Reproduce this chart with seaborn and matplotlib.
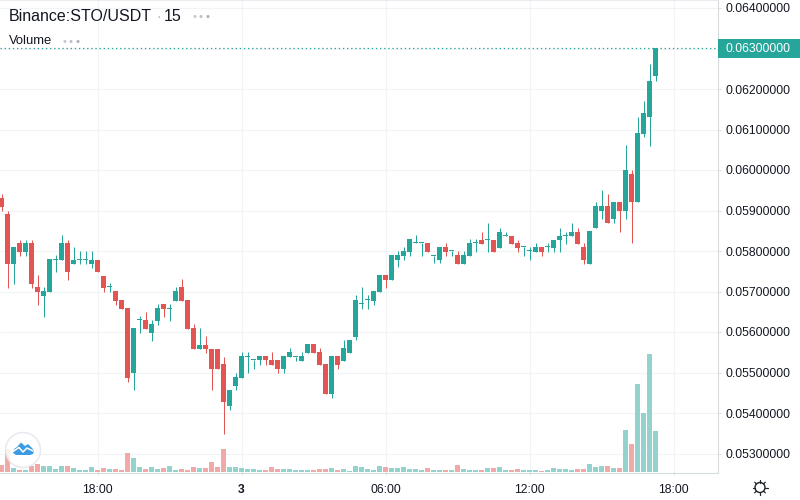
import matplotlib
matplotlib.use("Agg")
import matplotlib.pyplot as plt
import numpy as np
import pandas as pd
import seaborn as sns
from matplotlib.patches import Circle, Polygon, Rectangle

# prices are in units of 0.001 USDT, one list per field, one value per 15 min candle
opens = [
    59.30, 58.91, 57.69, 58.19, 57.97, 58.19, 57.10, 56.89, 56.99, 57.79,
    57.78, 58.19, 57.68, 57.78, 57.78, 57.68, 57.79, 57.39, 57.10, 57.00,
    56.79, 56.59, 54.99, 56.29, 56.29, 55.98, 56.28, 56.69, 56.58, 56.77,
    57.10, 56.79, 56.09, 55.58, 55.69, 55.59, 55.59, 55.20, 54.18, 54.67,
    54.87, 55.39, 55.30, 55.30, 55.41, 55.31, 55.31, 55.09, 55.39, 55.39,
    55.29, 55.49, 55.70, 55.51, 55.21, 54.48, 55.41, 55.29, 55.49, 55.88,
    56.68, 56.79, 56.77, 56.99, 57.40, 57.29, 57.78, 57.88, 57.98, 58.19,
    58.19, 58.19, 57.88, 57.78, 58.09, 57.99, 57.89, 57.69, 57.88, 58.19,
    58.28, 58.28, 58.28, 58.07, 58.38, 58.38, 58.19, 58.09, 57.99, 57.97,
    58.09, 58.09, 58.07, 58.27, 58.38, 58.37, 58.48, 58.09, 57.68, 58.58,
    58.99, 59.11, 58.80, 59.21, 59.00, 59.90, 59.20, 60.90, 61.30, 62.31,
]
highs = [
    59.40, 58.99, 58.09, 58.28, 58.28, 58.28, 57.40, 57.10, 57.80, 57.90,
    58.39, 58.28, 58.09, 58.00, 58.00, 58.00, 57.79, 57.39, 57.20, 57.00,
    56.79, 56.59, 56.09, 56.39, 56.49, 56.29, 56.69, 56.69, 56.69, 57.10,
    57.30, 56.79, 56.19, 56.09, 55.90, 55.59, 55.59, 55.39, 54.58, 54.99,
    55.50, 55.50, 55.30, 55.41, 55.41, 55.51, 55.31, 55.41, 55.60, 55.39,
    55.51, 55.70, 55.70, 55.60, 55.21, 55.41, 55.41, 55.80, 55.80, 56.91,
    57.10, 56.91, 57.00, 57.40, 57.40, 57.89, 57.99, 58.09, 58.30, 58.40,
    58.19, 58.19, 57.88, 58.09, 58.19, 57.99, 57.99, 57.99, 58.30, 58.30,
    58.48, 58.70, 58.28, 58.58, 58.48, 58.38, 58.28, 58.09, 58.09, 58.19,
    58.09, 58.19, 58.28, 58.58, 58.48, 58.70, 58.58, 58.19, 58.49, 59.21,
    59.51, 59.41, 59.21, 59.21, 60.61, 60.00, 61.30, 61.71, 62.62, 63.00,
]
lows = [
    58.99, 57.09, 57.19, 57.87, 57.87, 57.09, 56.66, 56.37, 56.99, 57.49,
    57.78, 57.29, 57.68, 57.69, 57.69, 57.58, 57.49, 56.99, 56.99, 56.67,
    56.57, 54.77, 54.56, 55.98, 56.08, 55.78, 56.18, 56.37, 56.28, 56.77,
    56.77, 56.08, 55.58, 55.58, 55.49, 54.56, 55.09, 53.49, 54.08, 54.56,
    54.87, 54.99, 55.09, 55.19, 55.19, 55.19, 55.00, 55.00, 55.39, 55.29,
    55.29, 55.49, 55.49, 55.19, 54.48, 54.38, 55.09, 55.29, 55.49, 55.80,
    56.58, 56.58, 56.67, 56.99, 57.09, 57.29, 57.60, 57.78, 57.88, 58.19,
    57.88, 57.98, 57.70, 57.70, 57.88, 57.88, 57.69, 57.69, 57.88, 57.98,
    58.17, 57.98, 57.97, 58.07, 58.38, 58.17, 57.97, 57.88, 57.78, 57.97,
    57.88, 57.97, 57.97, 57.97, 58.17, 58.37, 58.17, 57.68, 57.68, 58.58,
    58.80, 58.70, 58.70, 58.48, 58.80, 58.19, 59.20, 60.81, 60.60, 62.19,
]
closes = [
    59.09, 57.69, 58.09, 57.97, 58.19, 57.19, 56.99, 57.00, 57.80, 57.79,
    58.19, 57.49, 57.79, 57.79, 57.79, 57.79, 57.49, 57.09, 57.10, 56.77,
    56.57, 54.87, 56.09, 56.29, 56.08, 56.19, 56.59, 56.58, 56.58, 57.00,
    56.77, 56.08, 55.58, 55.69, 55.58, 55.09, 55.09, 54.28, 54.58, 54.88,
    55.40, 55.39, 55.30, 55.41, 55.30, 55.19, 55.09, 55.41, 55.51, 55.39,
    55.41, 55.70, 55.49, 55.19, 54.48, 55.41, 55.19, 55.60, 55.80, 56.79,
    56.68, 56.79, 57.00, 57.40, 57.29, 57.89, 57.89, 57.99, 58.30, 58.19,
    58.19, 57.98, 57.88, 58.09, 57.98, 57.99, 57.69, 57.89, 58.19, 58.19,
    58.17, 58.28, 57.97, 58.48, 58.38, 58.17, 58.07, 58.09, 57.99, 58.09,
    57.97, 58.09, 58.28, 58.38, 58.38, 58.48, 58.17, 57.78, 58.49, 59.11,
    59.11, 58.70, 59.21, 59.00, 60.00, 59.20, 60.92, 61.41, 62.20, 63.00,
]
# volume in arbitrary units
volumes = [
    7, 23, 4, 2, 2, 6, 8, 6, 6, 3.5,
    6, 6, 4, 2, 2, 5, 2, 4, 3, 3,
    2, 19, 14, 5, 3, 5, 3, 4, 6, 2,
    3, 2, 5, 4, 4, 10, 5, 23, 5, 5,
    4, 3, 3, 2, 2, 5, 3, 3, 3, 2,
    2, 2, 2, 3, 3, 4, 2, 3, 1.5, 6,
    5, 3, 2, 6, 5, 4, 4, 5, 3, 3,
    2, 4, 2, 2, 2, 2, 7, 3, 2, 2,
    2, 4, 4, 5, 2, 2, 3, 2, 2, 2,
    1.5, 2, 4, 3, 3, 2, 3, 3, 8, 5,
    6, 6, 4, 4, 42, 28, 88, 59, 118, 41,
]
price_ticks = [53, 54, 55, 56, 57, 58, 59, 60, 61, 62, 63, 64]
time_ticks = [16, 40, 64, 88, 112]
time_labels = ["18:00", "3", "06:00", "12:00", "18:00"]
last_price = 63.0

UP = "#26a69a"
DOWN = "#e25552"
GRID = "#f1f3f6"
AXIS = "#d6dcde"
TEXT = "#131722"
FONT = ["Liberation Sans", "DejaVu Sans"]
BAR_W = 4.9 / 6

df = pd.DataFrame({"open": opens, "high": highs, "low": lows, "close": closes, "volume": volumes})
df["idx"] = np.arange(len(df))
df["dir"] = np.where(df["close"] >= df["open"], "up", "down")

sns.set_theme(style="white")
plt.rcParams["font.family"] = FONT

fig = plt.figure(figsize=(8, 5), dpi=100)
box = [0, 28 / 500, 717.5 / 800, 472 / 500]
xlim = (-1.5 / 6, 716 / 6)

# candles and the grid go in the lower axes
ax = fig.add_axes(box, zorder=1)
ax.set_xlim(xlim)
ax.set_ylim(63 - 423.5 / 40.5, 63 + 48.5 / 40.5)
ax.set_xticks(time_ticks)
ax.set_yticks(price_ticks)
ax.set_yticklabels([f"{p / 1000:.8f}" for p in price_ticks], fontsize=8.7, color=TEXT)
ax.yaxis.tick_right()
ax.tick_params(axis="x", bottom=False, labelbottom=False)
ax.tick_params(axis="y", right=True, length=2.2, width=0.72, color=AXIS, pad=3.5)
ax.grid(True, color=GRID, lw=0.8, zorder=0)
ax.set_axisbelow(True)

for direction, color in [("up", UP), ("down", DOWN)]:
    part = df[df["dir"] == direction]
    ax.vlines(part["idx"], part["low"], part["high"], color=color, lw=0.72, zorder=3)
    bottom = part[["open", "close"]].min(axis=1)
    height = (part["open"] - part["close"]).abs().clip(lower=1 / 40.5)
    ax.bar(part["idx"], height, bottom=bottom, width=BAR_W, color=color, lw=0, zorder=4)

for s in ["left", "bottom"]:
    ax.spines[s].set_visible(False)
ax.spines["right"].set_color(AXIS)
ax.spines["right"].set_linewidth(0.8)
ax.spines["top"].set_color("#e6e8ee")
ax.spines["top"].set_linewidth(1.2)

# volume on top with a clear background, one unit is one pixel
ax_vol = fig.add_axes(box, zorder=2)
ax_vol.patch.set_alpha(0)
sns.barplot(
    data=df, x="idx", y="volume", hue="dir", native_scale=True, dodge=False, width=BAR_W,
    palette={"up": "#94d3cd", "down": "#f1a9a7"}, errorbar=None, legend=False,
    saturation=1, linewidth=0, ax=ax_vol,
)
ax_vol.set_xlim(xlim)
ax_vol.set_ylim(0, 472)
ax_vol.set_xticks(time_ticks)
ax_vol.set_xticklabels(time_labels, fontsize=8.7, color=TEXT)
ax_vol.get_xticklabels()[1].set_fontweight("bold")
ax_vol.tick_params(axis="x", bottom=True, length=2.2, width=0.72, color=AXIS, pad=6.5)
ax_vol.set_yticks([])
ax_vol.set_xlabel("")
ax_vol.set_ylabel("")
for s in ["left", "right", "top", "bottom"]:
    ax_vol.spines[s].set_visible(False)

# overlay in pixel coordinates for the chrome around the chart
ov = fig.add_axes([0, 0, 1, 1], zorder=3)
ov.set_xlim(0, 800)
ov.set_ylim(500, 0)
ov.axis("off")

ov.plot([0, 717.5], [472.5, 472.5], color=AXIS, lw=0.8)

# last price line and its label on the scale
ov.plot([0, 717.5], [48.4, 48.4], color=UP, lw=0.9, ls=(0, (1.1, 2.2)), snap=True)
ov.add_patch(Rectangle((718, 39), 82, 19, color=UP, lw=0))
ov.text(726, 48.5, f"{last_price / 1000:.8f}", color="white", fontsize=8.7, va="center", ha="left")

ov.text(9, 16.5, "Binance:STO/USDT", color=TEXT, fontsize=11.55, va="center", ha="left")
ov.text(156, 16.5, "·", color="#b2b5be", fontsize=10, va="center", ha="left")
ov.text(164, 16.5, "15", color=TEXT, fontsize=11.55, va="center", ha="left")
ov.text(9, 41.5, "Volume", color=TEXT, fontsize=9.4, va="center", ha="left")
ov.scatter([195, 201, 208], [16.5, 16.5, 16.5], s=5, color=["#c9cbd2", "#c0c2ca", "#b0b2ba"], lw=0)
ov.scatter([65, 71, 78], [41.5, 41.5, 41.5], s=5, color=["#c9cbd2", "#c0c2ca", "#b0b2ba"], lw=0)

# round logo
ov.add_patch(Circle((23, 450), 17.5, fc="white", ec="#e3e6ec", lw=1.1, alpha=0.85))
ov.add_patch(Polygon(
    [(13, 453), (14, 449), (17, 447), (21, 442.5), (25, 446), (28, 444), (32, 448), (34, 451), (33, 454), (30, 455), (16, 455)],
    closed=True, fc="#3d9be3", lw=0,
))
ov.plot([13, 19, 23, 27, 33], [451.5, 447.5, 452, 448, 451], color="white", lw=1.1)

# settings gear
ov.add_patch(Circle((760, 487.5), 5, fc="none", ec="#1e222d", lw=1))
for a in np.deg2rad(np.arange(0, 360, 45)):
    ov.plot([760 + 5 * np.cos(a), 760 + 7.5 * np.cos(a)], [487.5 + 5 * np.sin(a), 487.5 + 7.5 * np.sin(a)],
            color="#1e222d", lw=0.9)

fig.savefig("out.png", dpi=100)
